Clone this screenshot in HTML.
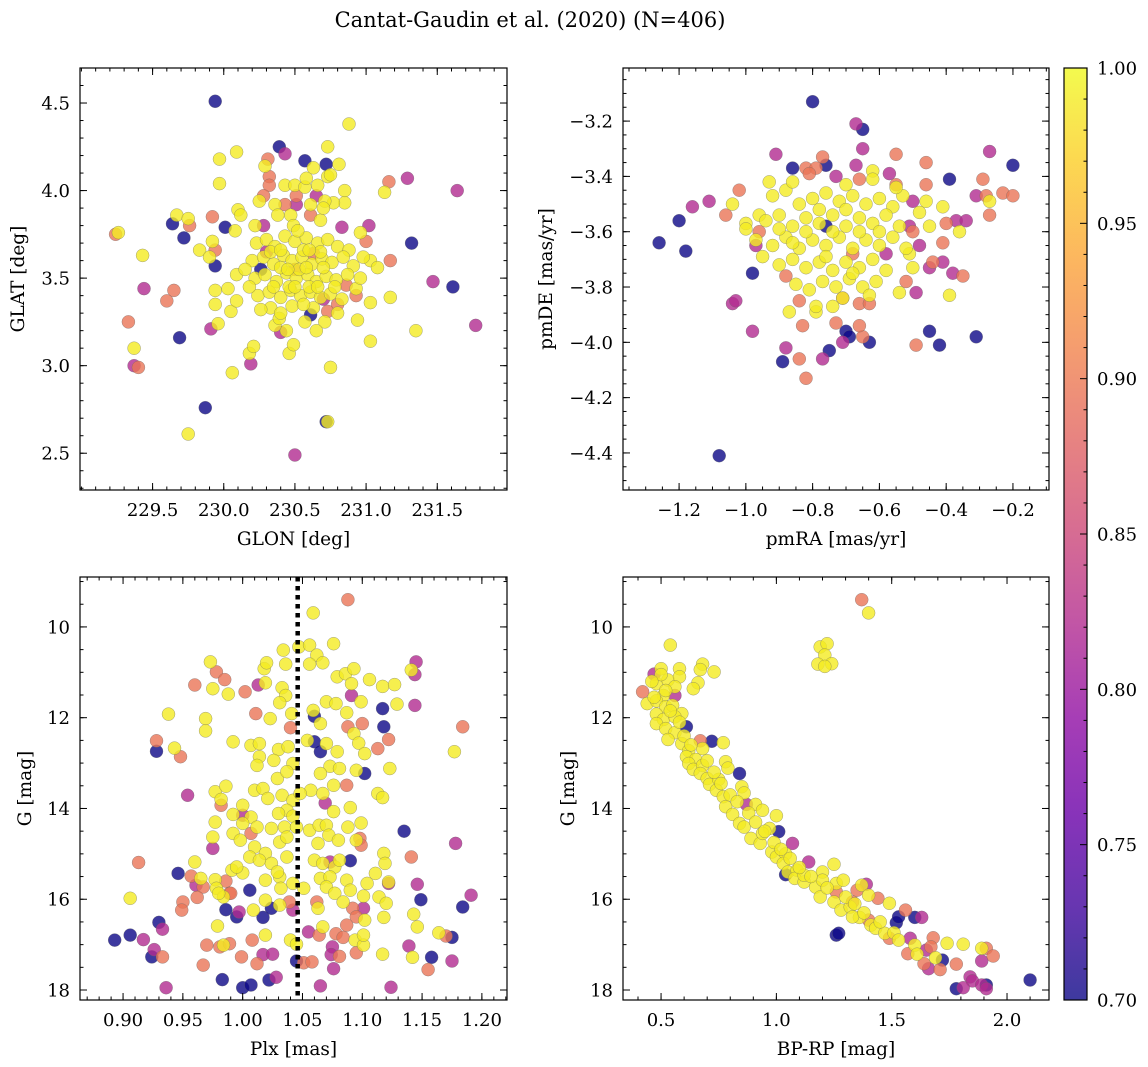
<!DOCTYPE html>
<html><head><meta charset="utf-8"><style>
html,body{margin:0;padding:0;background:#fff;}
svg{display:block;font-family:"DejaVu Serif","Liberation Serif",serif;}
</style></head><body>
<svg id="fig" width="1148" height="1067" viewBox="0 0 1148 1067" xmlns="http://www.w3.org/2000/svg">
<defs>
<linearGradient id="plasma" x1="0" y1="1" x2="0" y2="0">
<stop offset="0" stop-color="#0d0887"/><stop offset="0.1" stop-color="#41049d"/><stop offset="0.2" stop-color="#6a00a8"/><stop offset="0.3" stop-color="#8f0da4"/><stop offset="0.4" stop-color="#b12a90"/><stop offset="0.5" stop-color="#cc4778"/><stop offset="0.6" stop-color="#e16462"/><stop offset="0.7" stop-color="#f2844b"/><stop offset="0.8" stop-color="#fca636"/><stop offset="0.9" stop-color="#fcce25"/><stop offset="1" stop-color="#f0f921"/>
</linearGradient>
</defs>
<text x="530" y="27" font-size="21" text-anchor="middle">Cantat-Gaudin et al. (2020) (N=406)</text>
<g id="layer"></g>
</svg>
<script>
// Panel 1: [GLON, GLAT, prob]
const skyPoints = [
[229.94,4.51,0.70],[230.88,4.38,0.99],[230.39,4.25,0.70],[230.43,4.21,0.82],[230.73,4.25,0.99],[230.31,4.18,0.895],[230.57,4.17,0.70],[229.97,4.18,0.99],[230.09,4.22,0.99],[230.72,4.15,0.70],[230.81,4.15,0.99],[230.29,4.14,0.99],[230.32,4.08,0.895],[230.32,4.03,0.895],[231.16,4.05,0.895],[231.29,4.07,0.82],[231.13,3.99,0.99],[231.64,4.00,0.82],[229.97,4.04,0.99],[229.92,3.85,0.895],[229.67,3.86,0.99],[229.64,3.81,0.70],[229.75,3.84,0.99],[229.76,3.80,0.895],[230.01,3.79,0.70],[229.72,3.73,0.70],[229.24,3.75,0.895],[229.26,3.76,0.99],[229.43,3.63,0.99],[229.44,3.44,0.82],[229.65,3.43,0.895],[229.60,3.37,0.895],[229.33,3.25,0.895],[229.91,3.21,0.82],[229.96,3.24,0.99],[229.69,3.16,0.70],[229.37,3.10,0.99],[229.37,3.00,0.82],[229.40,2.99,0.895],[230.06,2.96,0.99],[230.19,3.01,0.82],[230.18,3.07,0.99],[230.21,3.11,0.99],[229.87,2.76,0.70],[229.75,2.61,0.99],[230.50,2.49,0.82],[230.72,2.68,0.70],[230.73,2.68,0.99],[230.75,2.99,0.99],[230.46,3.07,0.99],[230.49,3.12,0.99],[231.03,3.14,0.99],[231.35,3.20,0.99],[231.77,3.23,0.82],[231.47,3.48,0.82],[231.61,3.45,0.70],[231.32,3.70,0.70],[231.17,3.39,0.99],[231.17,3.60,0.895],[231.03,3.36,0.99],[230.83,3.79,0.82],[231.02,3.80,0.82],[230.96,3.76,0.99],[231.00,3.71,0.895],[231.03,3.60,0.99],[231.08,3.56,0.99],[230.93,3.40,0.895],[230.93,3.44,0.99],[230.94,3.26,0.99],[230.80,3.35,0.895],[230.80,3.30,0.99],[230.71,3.25,0.99],[230.40,3.19,0.82],[230.44,3.20,0.99],[230.36,3.23,0.99],[230.39,3.27,0.99],[230.61,3.29,0.70],[230.57,3.25,0.99],[230.65,3.20,0.99],[230.73,3.31,0.895],[229.94,3.43,0.99],[229.94,3.35,0.99],[230.05,3.31,0.99],[230.03,3.44,0.99],[230.09,3.37,0.99],[229.83,3.66,0.99],[229.90,3.62,0.99],[229.94,3.57,0.70],[229.94,3.66,0.895],[229.92,3.71,0.99],[230.09,3.52,0.99],[230.08,3.77,0.99],[230.10,3.89,0.99],[230.12,3.86,0.99],[230.28,3.80,0.82],[230.22,3.80,0.99],[230.25,3.94,0.99],[230.28,3.97,0.895],[230.36,3.92,0.99],[230.43,3.92,0.895],[230.51,3.92,0.82],[230.38,3.86,0.99],[230.43,4.03,0.99],[230.50,4.03,0.99],[230.51,3.97,0.895],[230.57,4.02,0.99],[230.58,4.07,0.99],[230.63,4.13,0.99],[230.66,4.03,0.99],[230.65,3.97,0.82],[230.73,4.08,0.99],[230.75,4.09,0.99],[230.85,4.00,0.99],[230.85,3.93,0.99],[230.77,3.93,0.99],[230.71,3.94,0.99],[230.61,3.92,0.99],[230.61,3.86,0.895],[230.68,3.83,0.99],[230.70,3.90,0.99],[230.47,3.86,0.99],[230.49,3.80,0.99],
[230.23,3.70,0.99],[230.30,3.72,0.99],[230.36,3.68,0.99],[230.43,3.74,0.99],[230.50,3.71,0.99],[230.58,3.73,0.99],[230.66,3.70,0.99],[230.73,3.72,0.99],[230.80,3.68,0.99],[230.88,3.66,0.99],
[230.20,3.60,0.99],[230.28,3.62,0.99],[230.35,3.58,0.99],[230.42,3.63,0.99],[230.48,3.60,0.99],[230.55,3.62,0.99],[230.62,3.58,0.99],[230.69,3.61,0.99],[230.76,3.59,0.99],[230.84,3.62,0.99],[230.91,3.57,0.99],
[230.22,3.50,0.99],[230.29,3.52,0.99],[230.37,3.48,0.99],[230.44,3.53,0.99],[230.51,3.50,0.99],[230.59,3.52,0.99],[230.65,3.48,0.99],[230.72,3.51,0.99],[230.79,3.49,0.99],[230.87,3.52,0.99],
[230.24,3.40,0.99],[230.32,3.42,0.99],[230.40,3.39,0.99],[230.47,3.43,0.99],[230.54,3.40,0.99],[230.61,3.42,0.99],[230.68,3.39,0.99],[230.75,3.41,0.99],[230.83,3.38,0.99],
[230.33,3.33,0.99],[230.48,3.34,0.99],[230.63,3.33,0.99],[230.56,3.66,0.99],[230.46,3.45,0.99],[230.53,3.55,0.99],[230.60,3.45,0.99],[230.40,3.56,0.99],[230.68,3.65,0.99],[230.33,3.65,0.99],[230.78,3.45,0.99],[230.18,3.45,0.99],[230.15,3.55,0.99],[230.98,3.62,0.99],[230.96,3.50,0.99],
[230.40,3.66,0.99],[230.52,3.77,0.99],[230.60,3.66,0.99],[230.45,3.55,0.99],[230.58,3.56,0.99],[230.70,3.56,0.99],[230.35,3.45,0.99],[230.50,3.45,0.99],[230.66,3.45,0.99],[230.56,3.35,0.99],[230.40,3.30,0.99],[230.26,3.32,0.99],
[230.50,3.55,0.895],[230.70,3.38,0.82],[230.26,3.55,0.70],[230.63,3.64,0.895],[230.86,3.46,0.895],[230.30,3.65,0.82]
];
// Panel 2: [pmRA, pmDE, prob]
const pmPoints = [
[-0.80,-3.13,0.70],[-0.67,-3.21,0.82],[-0.65,-3.23,0.70],[-0.65,-3.30,0.82],[-0.91,-3.32,0.82],[-0.86,-3.37,0.70],[-0.76,-3.36,0.70],[-0.77,-3.33,0.895],[-0.82,-3.37,0.895],[-0.79,-3.37,0.895],[-0.81,-3.39,0.895],[-0.67,-3.36,0.82],[-0.62,-3.38,0.99],[-0.66,-3.41,0.895],[-0.73,-3.40,0.82],[-0.55,-3.32,0.895],[-0.46,-3.35,0.895],[-0.57,-3.39,0.82],[-0.55,-3.43,0.895],[-0.46,-3.43,0.895],[-0.39,-3.41,0.70],[-0.27,-3.31,0.82],[-0.20,-3.36,0.70],[-0.29,-3.41,0.895],[-0.23,-3.46,0.895],[-0.20,-3.47,0.895],[-0.28,-3.47,0.895],[-0.27,-3.49,0.99],[-0.31,-3.47,0.82],[-0.27,-3.54,0.895],[-0.37,-3.56,0.82],[-0.34,-3.56,0.82],[-0.36,-3.60,0.99],[-0.40,-3.57,0.895],[-0.41,-3.51,0.99],[-0.45,-3.58,0.99],[-0.46,-3.49,0.99],[-0.50,-3.49,0.82],[-0.48,-3.53,0.99],[-0.41,-3.64,0.895],[-0.50,-3.60,0.895],[-0.51,-3.58,0.82],[-0.48,-3.65,0.82],[-0.44,-3.71,0.895],[-0.45,-3.73,0.82],[-0.41,-3.71,0.82],[-0.38,-3.75,0.82],[-0.35,-3.76,0.895],[-0.50,-3.73,0.99],[-0.51,-3.68,0.99],[-0.52,-3.78,0.895],[-0.49,-3.82,0.82],[-0.54,-3.82,0.99],[-0.39,-3.83,0.99],[-0.45,-3.96,0.70],[-0.42,-4.01,0.70],[-0.31,-3.98,0.70],[-0.49,-4.01,0.895],[-0.63,-4.00,0.70],[-0.65,-3.98,0.895],[-0.66,-3.94,0.895],[-0.70,-3.96,0.70],[-0.69,-3.98,0.70],[-0.71,-4.00,0.82],[-0.73,-3.93,0.895],[-0.75,-4.03,0.70],[-0.77,-4.06,0.82],[-0.84,-4.06,0.895],[-0.82,-4.13,0.895],[-0.89,-4.07,0.70],[-0.88,-4.02,0.82],[-0.83,-3.94,0.895],[-0.79,-3.89,0.99],[-0.87,-3.89,0.99],[-0.84,-3.85,0.895],[-0.98,-3.96,0.82],[-1.04,-3.86,0.82],[-1.03,-3.85,0.82],[-0.98,-3.75,0.70],[-1.18,-3.67,0.70],[-1.26,-3.64,0.70],[-1.20,-3.56,0.70],[-1.16,-3.51,0.82],[-1.11,-3.49,0.82],[-1.04,-3.50,0.99],[-1.02,-3.45,0.895],[-1.06,-3.54,0.895],[-1.00,-3.57,0.99],[-0.96,-3.54,0.99],[-0.93,-3.42,0.99],[-0.96,-3.60,0.895],[-0.97,-3.65,0.82],[-1.08,-4.41,0.70],[-0.74,-3.87,0.99],[-0.71,-3.84,0.895],[-0.66,-3.86,0.895],[-0.63,-3.86,0.895],
[-0.92,-3.47,0.99],[-0.88,-3.45,0.99],[-0.84,-3.50,0.99],[-0.80,-3.48,0.99],[-0.76,-3.46,0.99],[-0.72,-3.49,0.99],[-0.68,-3.47,0.99],[-0.64,-3.50,0.99],[-0.60,-3.48,0.99],[-0.56,-3.51,0.99],[-0.53,-3.47,0.99],
[-0.94,-3.56,0.99],[-0.90,-3.54,0.99],[-0.86,-3.58,0.99],[-0.82,-3.55,0.99],[-0.78,-3.57,0.99],[-0.74,-3.54,0.99],[-0.70,-3.58,0.99],[-0.66,-3.55,0.99],[-0.62,-3.57,0.99],[-0.58,-3.54,0.99],[-0.54,-3.58,0.99],
[-0.97,-3.63,0.99],[-0.92,-3.65,0.99],[-0.88,-3.62,0.99],[-0.84,-3.66,0.99],[-0.80,-3.63,0.99],[-0.76,-3.65,0.99],[-0.72,-3.62,0.99],[-0.68,-3.66,0.99],[-0.64,-3.63,0.99],[-0.60,-3.65,0.99],[-0.56,-3.62,0.99],[-0.52,-3.66,0.99],
[-0.90,-3.72,0.99],[-0.86,-3.70,0.99],[-0.82,-3.73,0.99],[-0.78,-3.71,0.99],[-0.74,-3.74,0.99],[-0.70,-3.71,0.99],[-0.66,-3.73,0.99],[-0.62,-3.70,0.99],[-0.58,-3.74,0.99],
[-0.85,-3.79,0.99],[-0.81,-3.81,0.99],[-0.77,-3.78,0.99],[-0.73,-3.80,0.99],[-0.69,-3.77,0.99],[-0.65,-3.80,0.99],[-0.61,-3.78,0.99],
[-0.79,-3.87,0.99],[-0.71,-3.84,0.99],[-0.63,-3.83,0.99],[-0.74,-3.60,0.99],[-0.78,-3.52,0.99],[-0.70,-3.43,0.99],[-0.86,-3.42,0.99],[-0.62,-3.41,0.99],[-0.55,-3.44,0.99],[-1.00,-3.59,0.99],[-0.95,-3.69,0.99],
[-0.82,-3.60,0.99],[-0.70,-3.52,0.99],[-0.66,-3.60,0.99],[-0.76,-3.69,0.99],[-0.68,-3.75,0.99],[-0.86,-3.64,0.99],[-0.60,-3.60,0.99],[-0.90,-3.59,0.99],
[-0.76,-3.58,0.70],[-0.68,-3.68,0.895],[-0.58,-3.68,0.82],[-0.88,-3.76,0.895]
];
// Panel 3: [Plx, G, prob]
const plxPoints = [
[1.088,9.40,0.895],[1.059,9.69,0.99],[0.973,10.77,0.99],[0.978,10.99,0.895],[0.985,11.16,0.895],[0.960,11.28,0.895],[0.975,11.36,0.99],[0.988,11.48,0.99],[1.002,11.43,0.895],[1.013,11.28,0.82],[1.019,11.23,0.99],[1.018,10.92,0.99],[1.020,10.79,0.99],[1.034,10.51,0.99],[1.036,10.82,0.99],[1.047,10.44,0.99],[1.056,10.40,0.99],[1.062,10.62,0.99],[1.067,10.79,0.99],[1.056,10.82,0.99],[1.076,10.37,0.99],[1.079,11.10,0.99],[1.086,11.03,0.99],[1.093,10.92,0.99],[1.091,11.25,0.99],[1.106,11.16,0.99],[1.117,11.31,0.99],[1.127,11.27,0.99],[1.141,10.95,0.99],[1.145,10.77,0.82],[1.144,11.05,0.82],[1.144,11.73,0.82],[1.129,11.70,0.99],[1.117,11.80,0.70],[1.118,12.20,0.70],[1.184,12.20,0.895],[1.177,12.75,0.99],[1.091,11.51,0.82],[1.099,11.65,0.99],[1.033,11.34,0.99],[1.036,11.51,0.99],[1.031,11.67,0.99],[0.938,11.92,0.99],[0.969,12.02,0.99],[0.969,12.29,0.99],[1.023,12.02,0.99],[1.011,11.91,0.895],[1.040,12.22,0.895],[1.041,11.91,0.99],[1.059,11.84,0.99],[1.060,11.97,0.70],[1.070,11.65,0.99],[1.078,11.69,0.99],[1.087,11.89,0.99],[1.065,12.13,0.99],[1.088,12.20,0.895],[1.100,12.13,0.895],[1.093,12.35,0.99],[1.097,12.56,0.99],[1.102,12.79,0.99],[1.122,12.48,0.895],[1.113,12.68,0.895],[1.123,13.12,0.99],[0.928,12.51,0.895],[0.928,12.74,0.70],[0.943,12.67,0.99],[0.948,12.86,0.895],[0.992,12.53,0.99],[1.007,12.61,0.99],[1.014,12.57,0.99],[1.030,12.70,0.99],[1.038,12.64,0.99],[1.014,12.86,0.99],[1.026,12.94,0.99],[1.012,13.05,0.99],[1.042,13.01,0.99],[1.054,12.50,0.99],[1.060,12.53,0.70],[1.065,12.75,0.70],[1.070,12.57,0.99],[1.079,12.75,0.99],[1.073,13.07,0.99],[1.081,13.12,0.99],[1.095,13.16,0.99],[1.102,13.23,0.70],[1.087,13.49,0.895],[1.076,13.49,0.99],[1.065,13.23,0.99],[1.057,13.60,0.99],[1.029,13.34,0.99],[1.037,13.19,0.99],[0.954,13.71,0.82],[0.977,13.63,0.99],[0.986,13.51,0.99],[0.982,13.80,0.99],[0.982,13.93,0.895],[1.010,13.60,0.99],[1.017,13.56,0.99],[1.021,13.78,0.99],[1.033,13.71,0.99],[1.042,13.82,0.99],[1.048,13.67,0.99],[1.037,14.04,0.99],[1.069,13.88,0.82],[1.067,13.67,0.99],[1.090,13.98,0.99],[1.076,14.07,0.99],[1.113,13.67,0.99],[1.117,13.76,0.99],[0.977,14.30,0.99],[0.992,14.13,0.99],[1.000,13.93,0.99],[1.000,14.15,0.82],[1.007,14.19,0.99],[1.000,14.33,0.99],[1.012,14.41,0.99],[1.024,14.44,0.99],[1.030,14.11,0.99],[1.042,14.17,0.99],[1.035,14.41,0.99],[1.045,14.41,0.99],[1.056,14.48,0.99],[1.064,14.37,0.99],[1.070,14.37,0.99],[1.072,14.59,0.99],[1.080,14.70,0.99],[1.088,14.41,0.99],[1.099,14.32,0.99],[1.135,14.50,0.70],[1.178,14.77,0.82],[0.975,14.63,0.99],[0.975,14.88,0.82],[0.992,14.55,0.99],[1.007,14.55,0.895],[0.998,14.70,0.99],[1.031,14.74,0.99],[1.037,14.63,0.99],[1.010,14.85,0.99],[1.019,14.99,0.99],[1.006,15.07,0.99],[1.014,15.14,0.99],[1.037,15.07,0.99],[1.024,15.21,0.99],[1.063,14.77,0.99],[1.060,15.14,0.99],[1.067,15.21,0.99],[1.077,15.29,0.99],[1.098,14.66,0.895],[1.099,14.81,0.895],[1.095,14.70,0.99],[1.090,15.15,0.70],[1.073,15.18,0.82],[1.081,15.14,0.99],[1.141,15.07,0.895],[1.118,14.99,0.99],[1.119,15.21,0.99],[0.913,15.19,0.895],[0.960,15.18,0.99],[0.946,15.43,0.70],[0.957,15.49,0.895],[0.961,15.69,0.82],[0.967,15.73,0.895],[0.965,15.54,0.99],[0.977,15.57,0.99],[0.978,15.76,0.99],[0.986,15.60,0.895],[0.991,15.36,0.99],[1.000,15.42,0.99],[0.995,15.29,0.99],[1.006,15.80,0.70],[0.989,15.87,0.895],[0.984,15.95,0.99],[1.019,15.58,0.99],[1.031,15.51,0.99],[1.029,15.40,0.99],[1.032,15.76,0.99],[1.042,15.65,0.99],[1.051,15.76,0.99],[1.065,15.54,0.99],[1.073,15.51,0.99],[1.070,15.73,0.99],[1.077,15.87,0.99],[1.087,15.58,0.99],[1.090,15.80,0.99],[1.111,15.43,0.99],[1.104,15.65,0.99],[1.122,15.65,0.82],[1.122,15.62,0.99],[1.101,15.93,0.99],[1.146,15.67,0.82],[1.149,16.01,0.70],[1.191,15.91,0.82],[1.184,16.17,0.70],[0.906,15.98,0.99],[0.950,16.06,0.895],[0.949,16.24,0.895],[0.962,15.96,0.895],[0.980,15.87,0.99],[0.990,15.87,0.895],[0.986,16.23,0.70],[0.995,16.39,0.70],[0.997,16.28,0.82],[1.009,16.24,0.99],[1.017,16.40,0.70],[1.019,16.02,0.99],[1.024,16.20,0.70],[1.031,16.13,0.99],[1.042,16.24,0.82],[1.039,16.06,0.895],[1.062,16.06,0.895],[1.063,16.20,0.99],[1.084,16.06,0.99],[1.092,16.20,0.895],[1.101,16.20,0.82],[1.095,16.39,0.895],[1.102,16.46,0.99],[1.114,15.95,0.99],[1.120,16.09,0.99],[1.118,16.40,0.99],[1.143,16.33,0.99],[0.930,16.51,0.70],[0.933,16.66,0.82],[0.906,16.79,0.70],[0.893,16.90,0.70],[0.917,16.89,0.82],[0.926,17.11,0.82],[0.924,17.27,0.70],[0.933,17.27,0.895],[0.979,16.59,0.99],[0.970,17.01,0.895],[0.981,17.05,0.895],[0.984,17.01,0.99],[0.989,16.98,0.895],[1.008,16.90,0.895],[1.019,16.79,0.99],[0.999,17.27,0.895],[1.017,17.22,0.82],[1.025,17.21,0.82],[1.012,17.42,0.895],[0.967,17.45,0.895],[1.040,16.90,0.99],[1.045,16.99,0.99],[1.045,17.36,0.70],[1.051,17.40,0.895],[1.058,17.38,0.895],[1.055,16.72,0.82],[1.064,16.79,0.895],[1.067,16.61,0.99],[1.075,17.05,0.82],[1.074,17.22,0.82],[1.081,17.26,0.895],[1.076,17.53,0.82],[1.078,16.76,0.895],[1.084,16.84,0.895],[1.087,16.57,0.895],[1.094,16.90,0.99],[1.101,17.01,0.99],[1.101,16.79,0.99],[1.095,17.18,0.895],[1.117,17.21,0.99],[1.139,17.03,0.82],[1.142,17.28,0.99],[1.146,16.61,0.99],[1.164,16.74,0.99],[1.170,16.81,0.895],[1.175,16.84,0.70],[1.158,17.28,0.70],[1.175,17.36,0.82],[1.155,17.55,0.895],[0.983,17.77,0.70],[1.000,17.95,0.70],[1.007,17.89,0.70],[1.022,17.78,0.70],[1.028,17.72,0.82],[0.936,17.95,0.82],[1.065,17.91,0.82],[1.124,17.94,0.82]
];
// Panel 4: [BP-RP, G, prob]
const cmdPoints = [
[0.54,10.40,0.99],[1.37,9.40,0.895],[1.40,9.69,0.99],[1.19,10.44,0.99],[1.22,10.37,0.99],[1.21,10.62,0.99],[1.18,10.82,0.99],[1.24,10.81,0.99],[1.21,10.87,0.99],[0.50,10.92,0.99],[0.47,11.04,0.82],[0.58,10.92,0.99],[0.68,10.82,0.99],[0.67,10.94,0.99],[0.73,10.99,0.99],[0.66,11.23,0.99],[0.64,11.36,0.99],[0.42,11.43,0.895],[0.48,11.25,0.99],[0.53,11.17,0.99],[0.58,11.10,0.99],[0.56,11.32,0.99],[0.56,11.51,0.82],[0.51,11.51,0.99],[0.44,11.69,0.99],[0.48,11.63,0.99],[0.52,11.76,0.99],[0.55,11.73,0.99],[0.59,11.91,0.99],[0.48,11.92,0.99],[0.51,12.04,0.99],[0.56,11.98,0.99],[0.48,12.13,0.99],[0.61,12.20,0.70],[0.52,12.24,0.99],[0.56,12.33,0.99],[0.53,12.48,0.99],[0.67,12.51,0.895],[0.72,12.52,0.70],[0.77,12.55,0.99],[0.68,12.68,0.99],[0.59,12.57,0.99],[0.62,12.73,0.99],[0.61,12.86,0.99],[0.65,12.92,0.99],[0.62,13.01,0.99],[0.64,13.14,0.99],[0.68,13.05,0.99],[0.67,13.23,0.99],[0.78,12.97,0.99],[0.79,13.11,0.99],[0.84,13.23,0.70],[0.70,13.34,0.99],[0.71,13.47,0.99],[0.75,13.36,0.99],[0.74,13.60,0.99],[0.77,13.74,0.99],[0.85,13.52,0.99],[0.86,13.66,0.99],[0.87,13.91,0.82],[0.91,13.91,0.99],[0.94,14.04,0.99],[0.78,13.96,0.99],[0.81,14.13,0.99],[0.84,14.33,0.99],[0.86,14.41,0.99],[1.00,14.16,0.99],[0.97,14.44,0.99],[1.01,14.51,0.70],[0.89,14.66,0.99],[0.93,14.77,0.99],[0.94,14.55,0.99],[1.07,14.77,0.82],[0.98,14.96,0.99],[1.00,15.07,0.99],[1.04,15.00,0.99],[1.03,15.21,0.99],[1.04,15.46,0.70],[1.05,15.40,0.99],[1.09,15.36,0.99],[1.14,15.18,0.82],[1.25,15.23,0.99],[1.20,15.40,0.99],[1.08,15.54,0.99],[1.12,15.62,0.99],[1.12,15.47,0.99],[1.17,15.73,0.99],[1.20,15.58,0.99],[1.19,15.95,0.99],[1.26,15.65,0.99],[1.29,15.58,0.99],[1.39,15.67,0.82],[1.37,15.69,0.99],[1.35,15.80,0.895],[1.40,15.91,0.99],[1.44,15.98,0.895],[1.49,16.09,0.99],[1.25,16.06,0.99],[1.28,16.24,0.99],[1.32,16.17,0.99],[1.33,16.06,0.895],[1.36,16.40,0.99],[1.33,16.39,0.99],[1.26,15.84,0.895],[1.26,16.79,0.70],[1.27,16.75,0.70],[1.52,16.52,0.70],[1.53,16.39,0.70],[1.56,16.24,0.895],[1.60,16.40,0.70],[1.63,16.40,0.82],[1.41,16.57,0.99],[1.43,16.64,0.99],[1.40,16.46,0.895],[1.47,16.75,0.99],[1.51,16.74,0.99],[1.49,16.86,0.895],[1.53,16.90,0.99],[1.58,16.86,0.82],[1.57,17.20,0.895],[1.60,17.01,0.99],[1.61,17.21,0.99],[1.68,16.85,0.895],[1.67,17.05,0.895],[1.65,17.12,0.82],[1.64,17.42,0.895],[1.66,17.53,0.82],[1.71,17.55,0.895],[1.69,17.29,0.99],[1.72,17.34,0.70],[1.74,16.97,0.99],[1.81,16.99,0.99],[1.89,17.08,0.99],[1.91,17.08,0.895],[1.94,17.25,0.895],[1.89,17.36,0.82],[1.78,17.43,0.895],[1.84,17.71,0.82],[1.85,17.80,0.82],[1.78,17.97,0.70],[1.81,17.95,0.82],[1.91,17.89,0.70],[1.89,17.89,0.82],[1.91,17.97,0.82],[2.10,17.78,0.70],
[0.50,11.05,0.99],[0.46,11.20,0.99],[0.52,11.40,0.99],[0.47,11.55,0.99],[0.54,11.85,0.99],[0.58,12.10,0.99],[0.60,12.40,0.99],[0.63,12.60,0.99],[0.70,12.95,0.99],[0.73,13.20,0.99],[0.76,13.45,0.99],[0.80,13.70,0.99],[0.83,13.85,0.99],[0.88,14.10,0.99],[0.91,14.30,0.99],[0.95,14.50,0.99],[0.99,14.75,0.99],[1.02,14.90,0.99],[1.06,15.10,0.99],[1.10,15.30,0.99],[1.15,15.50,0.99],[1.22,15.75,0.99],[1.30,15.95,0.99],[1.34,16.10,0.99],[1.38,16.30,0.99],[1.45,16.50,0.99]
];
const plxMedian = [1.046];
const cbarTicks = [0.70,0.75,0.80,0.85,0.90,0.95,1.00];
const vmin = 0.70, vmax = 1.00;

const NS = "http://www.w3.org/2000/svg";
const layer = document.getElementById('layer');
function mk(tag, attrs, parent){ const e=document.createElementNS(NS,tag); for(const k in attrs) e.setAttribute(k,attrs[k]); (parent||layer).appendChild(e); return e; }
const stops=[[0,[13,8,135]],[0.1,[65,4,157]],[0.2,[106,0,168]],[0.3,[143,13,164]],[0.4,[177,42,144]],[0.5,[204,71,120]],[0.6,[225,100,98]],[0.7,[242,132,75]],[0.8,[252,166,54]],[0.9,[252,206,37]],[1,[240,249,33]]];
function plasma(t){ t=Math.max(0,Math.min(1,t)); for(let i=1;i<stops.length;i++){ if(t<=stops[i][0]){ const a=stops[i-1],b=stops[i],f=(t-a[0])/(b[0]-a[0]); const c=a[1].map((v,j)=>Math.round(v+(b[1][j]-v)*f)); return `rgb(${c[0]},${c[1]},${c[2]})`; } } return 'rgb(240,249,33)'; }
function fmtNum(v,d){ const s=Math.abs(v).toFixed(d); return (v<-1e-9?'\u2212':'')+s; }
const TFS = 18, LFS = 18.5;

function panel(cfg){
  const {name,L,R,T,B,xd,yd,pts,xMaj,xMin,yMaj,yMin,xd_,yd_,xlab,ylab,ylabX} = cfg;
  const g = mk('g',{});
  
  
  const sx = v => L + (v-xd[0])/(xd[1]-xd[0])*(R-L);
  const sy = v => T + (v-yd[0])/(yd[1]-yd[0])*(B-T);
  const clipId = 'clip-'+name;
  const cp = mk('clipPath',{id:clipId},g); mk('rect',{x:L,y:T,width:R-L,height:B-T},cp);
  const pg = mk('g',{'clip-path':`url(#${clipId})`},g);
  
  
  const sorted = pts.slice().sort((a,b)=>a[2]-b[2]);
  sorted.forEach(p=>{
    const c = mk('circle',{cx:sx(p[0]).toFixed(1),cy:sy(p[1]).toFixed(1),r:6.5,fill:plasma((p[2]-vmin)/(vmax-vmin)),'fill-opacity':0.8,stroke:'#666','stroke-width':0.5,'stroke-opacity':0.6},pg);
    
    
  });
  if(cfg.extra) cfg.extra(pg,sx,sy);
  mk('rect',{x:L,y:T,width:R-L,height:B-T,fill:'none',stroke:'#000','stroke-width':1.2},g);
  const tk = mk('g',{stroke:'#000','stroke-width':1},g);
  xMin.forEach(v=>{ const x=sx(v); if(x<L||x>R) return; mk('line',{x1:x,x2:x,y1:B,y2:B-3.5},tk); mk('line',{x1:x,x2:x,y1:T,y2:T+3.5},tk); });
  yMin.forEach(v=>{ const y=sy(v); if(y<T||y>B) return; mk('line',{x1:L,x2:L+3.5,y1:y,y2:y},tk); mk('line',{x1:R,x2:R-3.5,y1:y,y2:y},tk); });
  xMaj.forEach(v=>{ const x=sx(v); mk('line',{x1:x,x2:x,y1:B,y2:B-7},tk); mk('line',{x1:x,x2:x,y1:T,y2:T+7},tk);
    const t=mk('text',{x:x,y:B+26,'font-size':TFS,'text-anchor':'middle'},g); t.textContent=fmtNum(v,xd_);
    
     });
  yMaj.forEach(v=>{ const y=sy(v); mk('line',{x1:L,x2:L+7,y1:y,y2:y},tk); mk('line',{x1:R,x2:R-7,y1:y,y2:y},tk);
    const t=mk('text',{x:L-10,y:y+6.5,'font-size':TFS,'text-anchor':'end'},g); t.textContent=fmtNum(v,yd_);
    
     });
  const xl=mk('text',{x:(L+R)/2,y:B+55,'font-size':LFS,'text-anchor':'middle'},g); xl.textContent=xlab;
  
  
  const cy=(T+B)/2;
  const yl=mk('text',{x:ylabX,y:cy,'font-size':LFS,'text-anchor':'middle',transform:`rotate(-90 ${ylabX} ${cy})`},g); yl.textContent=ylab;
  
  
}
function range(a,b,s){ const r=[]; for(let v=a; v<=b+s/1000; v+=s) r.push(Math.round(v*1000)/1000); return r; }

panel({name:'sky-panel',L:80,R:507,T:68,B:490,xd:[228.99,231.99],yd:[4.70,2.29],pts:skyPoints,
  xMaj:range(229.5,231.5,0.5),xMin:range(229.0,232.0,0.1),yMaj:range(2.5,4.5,0.5),yMin:range(2.3,4.7,0.1),xd_:1,yd_:1,xlab:'GLON [deg]',ylab:'GLAT [deg]',ylabX:24});
panel({name:'pm-panel',L:623,R:1049,T:68,B:490,xd:[-1.368,-0.092],yd:[-3.008,-4.534],pts:pmPoints,
  xMaj:range(-1.2,-0.2,0.2),xMin:range(-1.35,-0.1,0.05),yMaj:range(-4.4,-3.2,0.2),yMin:range(-4.5,-3.0,0.05),xd_:1,yd_:1,xlab:'pmRA [mas/yr]',ylab:'pmDE [mas/yr]',ylabX:552});
panel({name:'plx-panel',L:80,R:507,T:577,B:1000,xd:[0.864,1.221],yd:[8.90,18.22],pts:plxPoints,
  xMaj:range(0.90,1.20,0.05),xMin:range(0.87,1.22,0.01),yMaj:range(10,18,2),yMin:range(9,18,0.5),xd_:2,yd_:0,xlab:'Plx [mas]',ylab:'G [mag]',ylabX:31,
  extra:(pg,sx,sy)=>{ plxMedian.forEach(m=>{ const l=mk('line',{x1:sx(m),x2:sx(m),y1:577,y2:1000,stroke:'#000','stroke-width':4.5,'stroke-dasharray':'4.5 4.5'},pg);
    
     }); }});
panel({name:'cmd-panel',L:623,R:1049,T:577,B:1000,xd:[0.335,2.182],yd:[8.90,18.22],pts:cmdPoints,
  xMaj:range(0.5,2.0,0.5),xMin:range(0.4,2.1,0.1),yMaj:range(10,18,2),yMin:range(9,18,0.5),xd_:1,yd_:0,xlab:'BP-RP [mag]',ylab:'G [mag]',ylabX:574});

// colorbar
(function(){
  const L=1064,R=1087,T=68,B=1000;
  const g=mk('g',{});
  
  
  mk('rect',{x:L,y:T,width:R-L,height:B-T,fill:'url(#plasma)','fill-opacity':0.8},g);
  mk('rect',{x:L,y:T,width:R-L,height:B-T,fill:'none',stroke:'#000','stroke-width':1.2},g);
  const sy=v=>B-(v-vmin)/(vmax-vmin)*(B-T);
  for(let i=70;i<=100;i++){ const v=i/100, y=sy(v); mk('line',{x1:R,x2:R-(i%5===0?7:3.5),y1:y,y2:y,stroke:'#000','stroke-width':1},g); }
  cbarTicks.forEach(v=>{ const t=mk('text',{x:R+10,y:sy(v)+6.5,'font-size':TFS},g); t.textContent=v.toFixed(2);
    
     });
})();
</script>
</body></html>
